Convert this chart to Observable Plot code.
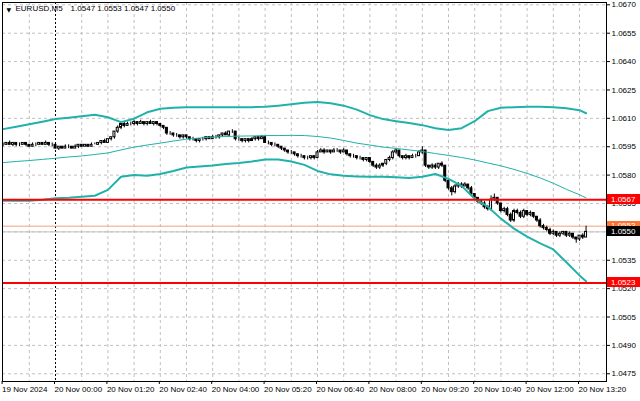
<!DOCTYPE html>
<html><head><meta charset="utf-8">
<script src="https://cdn.jsdelivr.net/npm/d3@7"></script>
<script src="https://cdn.jsdelivr.net/npm/@observablehq/plot@0.6"></script>
<style>html,body{margin:0;padding:0;background:#fff;overflow:hidden}svg{display:block}</style>
</head><body><div id="chart"></div>
<script>
// ---- data ----
const symbol = "EURUSD,M5";
const firstBar = "2024-11-19T22:40:00Z";   // M5 bars
const barMinutes = 5;

const open = [
1.0596,1.0596,1.0597,1.0596,1.0597,1.0596,1.0596,1.0597,1.0596,1.0595,1.0596,1.0596,1.0597,1.0596,1.0597,1.0596,
1.0596,1.0594,1.0595,1.0594,1.0595,1.0595,1.0594,1.0595,1.0596,1.0595,1.0596,1.0595,1.0596,1.0596,1.0597,1.0598,
1.0597,1.0599,1.0600,1.0603,1.0605,1.0607,1.0606,1.0607,1.0607,1.0608,1.0607,1.0608,1.0607,1.0608,1.0607,1.0608,
1.0607,1.0606,1.0605,1.0602,1.0602,1.0601,1.0601,1.0600,1.0601,1.0600,1.0599,1.0599,1.0598,1.0599,1.0599,1.0600,
1.0599,1.0600,1.0600,1.0601,1.0602,1.0601,1.0603,1.0603,1.0599,1.0599,1.0598,1.0599,1.0598,1.0599,1.0600,1.0599,
1.0600,1.0597,1.0597,1.0596,1.0596,1.0595,1.0594,1.0593,1.0592,1.0592,1.0591,1.0590,1.0590,1.0589,1.0589,1.0590,
1.0589,1.0592,1.0593,1.0592,1.0593,1.0592,1.0593,1.0593,1.0592,1.0593,1.0591,1.0590,1.0590,1.0589,1.0589,1.0588,
1.0589,1.0587,1.0585,1.0584,1.0585,1.0586,1.0588,1.0589,1.0592,1.0593,1.0590,1.0589,1.0590,1.0589,1.0590,1.0590,
1.0592,1.0593,1.0585,1.0584,1.0585,1.0584,1.0586,1.0585,1.0577,1.0573,1.0571,1.0574,1.0575,1.0574,1.0575,1.0573,
1.0570,1.0568,1.0566,1.0565,1.0563,1.0562,1.0567,1.0568,1.0565,1.0561,1.0562,1.0559,1.0556,1.0561,1.0560,1.0558,
1.0561,1.0559,1.0560,1.0558,1.0556,1.0553,1.0552,1.0551,1.0549,1.0550,1.0548,1.0549,1.0550,1.0548,1.0549,1.0547,
1.0546,1.0548,1.0547];
const high = [
1.0597,1.0597,1.0598,1.0597,1.0597,1.0597,1.0597,1.0597,1.0596,1.0597,1.0597,1.0597,1.0597,1.0598,1.0597,1.0597,
1.0596,1.0595,1.0595,1.0596,1.0596,1.0595,1.0596,1.0596,1.0596,1.0596,1.0596,1.0597,1.0597,1.0597,1.0598,1.0599,
1.0599,1.0600,1.0603,1.0606,1.0607,1.0608,1.0608,1.0608,1.0609,1.0608,1.0609,1.0608,1.0608,1.0609,1.0608,1.0608,
1.0607,1.0606,1.0605,1.0603,1.0602,1.0602,1.0601,1.0601,1.0601,1.0600,1.0600,1.0599,1.0599,1.0600,1.0600,1.0600,
1.0601,1.0601,1.0601,1.0602,1.0603,1.0603,1.0604,1.0603,1.0600,1.0599,1.0599,1.0599,1.0600,1.0600,1.0600,1.0601,
1.0600,1.0598,1.0597,1.0597,1.0596,1.0595,1.0594,1.0593,1.0593,1.0592,1.0591,1.0591,1.0590,1.0590,1.0590,1.0590,
1.0593,1.0594,1.0594,1.0593,1.0593,1.0594,1.0594,1.0593,1.0594,1.0593,1.0591,1.0591,1.0590,1.0590,1.0589,1.0589,
1.0589,1.0587,1.0586,1.0586,1.0586,1.0588,1.0590,1.0593,1.0594,1.0593,1.0590,1.0591,1.0590,1.0591,1.0591,1.0593,
1.0595,1.0593,1.0585,1.0586,1.0586,1.0586,1.0587,1.0585,1.0578,1.0574,1.0575,1.0576,1.0576,1.0576,1.0575,1.0574,
1.0570,1.0568,1.0567,1.0566,1.0564,1.0569,1.0570,1.0568,1.0565,1.0563,1.0563,1.0560,1.0562,1.0562,1.0561,1.0562,
1.0561,1.0561,1.0560,1.0558,1.0557,1.0554,1.0553,1.0552,1.0551,1.0550,1.0550,1.0550,1.0550,1.0550,1.0549,1.0547,
1.0548,1.0549,1.0553];
const low = [
1.0595,1.0596,1.0596,1.0595,1.0595,1.0595,1.0596,1.0595,1.0595,1.0595,1.0595,1.0596,1.0596,1.0596,1.0595,1.0595,
1.0594,1.0593,1.0594,1.0594,1.0594,1.0594,1.0594,1.0594,1.0595,1.0595,1.0595,1.0595,1.0596,1.0596,1.0596,1.0597,
1.0597,1.0598,1.0599,1.0602,1.0604,1.0605,1.0606,1.0606,1.0606,1.0606,1.0607,1.0606,1.0606,1.0607,1.0606,1.0606,
1.0605,1.0604,1.0601,1.0601,1.0600,1.0600,1.0599,1.0599,1.0599,1.0598,1.0598,1.0597,1.0597,1.0598,1.0598,1.0599,
1.0599,1.0599,1.0599,1.0600,1.0601,1.0600,1.0602,1.0598,1.0598,1.0597,1.0597,1.0597,1.0598,1.0598,1.0598,1.0599,
1.0597,1.0596,1.0595,1.0595,1.0594,1.0593,1.0592,1.0591,1.0591,1.0590,1.0589,1.0589,1.0588,1.0588,1.0588,1.0588,
1.0589,1.0592,1.0591,1.0592,1.0591,1.0592,1.0592,1.0591,1.0592,1.0590,1.0589,1.0589,1.0588,1.0588,1.0587,1.0587,
1.0586,1.0584,1.0583,1.0583,1.0584,1.0585,1.0587,1.0588,1.0591,1.0589,1.0588,1.0588,1.0588,1.0589,1.0589,1.0590,
1.0591,1.0584,1.0583,1.0583,1.0583,1.0583,1.0584,1.0576,1.0572,1.0569,1.0570,1.0573,1.0573,1.0574,1.0572,1.0569,
1.0567,1.0565,1.0564,1.0562,1.0561,1.0561,1.0566,1.0564,1.0560,1.0560,1.0558,1.0555,1.0555,1.0559,1.0557,1.0557,
1.0558,1.0558,1.0557,1.0555,1.0552,1.0551,1.0550,1.0548,1.0548,1.0547,1.0547,1.0548,1.0547,1.0547,1.0546,1.0544,
1.0545,1.0546,1.0547];
const close = [
1.0596,1.0597,1.0596,1.0597,1.0596,1.0596,1.0597,1.0596,1.0595,1.0596,1.0596,1.0597,1.0596,1.0597,1.0596,1.0596,
1.0594,1.0595,1.0594,1.0595,1.0595,1.0594,1.0595,1.0596,1.0595,1.0596,1.0595,1.0596,1.0596,1.0597,1.0598,1.0597,
1.0599,1.0600,1.0603,1.0605,1.0607,1.0606,1.0607,1.0607,1.0608,1.0607,1.0608,1.0607,1.0608,1.0607,1.0608,1.0607,
1.0606,1.0605,1.0602,1.0602,1.0601,1.0601,1.0600,1.0601,1.0600,1.0599,1.0599,1.0598,1.0599,1.0599,1.0600,1.0599,
1.0600,1.0600,1.0601,1.0602,1.0601,1.0603,1.0603,1.0599,1.0599,1.0598,1.0599,1.0598,1.0599,1.0600,1.0599,1.0600,
1.0597,1.0597,1.0596,1.0596,1.0595,1.0594,1.0593,1.0592,1.0592,1.0591,1.0590,1.0590,1.0589,1.0589,1.0590,1.0589,
1.0592,1.0593,1.0592,1.0593,1.0592,1.0593,1.0593,1.0592,1.0593,1.0591,1.0590,1.0590,1.0589,1.0589,1.0588,1.0589,
1.0587,1.0585,1.0584,1.0585,1.0586,1.0588,1.0589,1.0592,1.0593,1.0590,1.0589,1.0590,1.0589,1.0590,1.0590,1.0592,
1.0593,1.0585,1.0584,1.0585,1.0584,1.0586,1.0585,1.0577,1.0573,1.0571,1.0574,1.0575,1.0574,1.0575,1.0573,1.0570,
1.0568,1.0566,1.0565,1.0563,1.0562,1.0567,1.0568,1.0565,1.0561,1.0562,1.0559,1.0556,1.0561,1.0560,1.0558,1.0561,
1.0559,1.0560,1.0558,1.0556,1.0553,1.0552,1.0551,1.0549,1.0550,1.0548,1.0549,1.0550,1.0548,1.0549,1.0547,1.0546,
1.0548,1.0547,1.0550];

// Bollinger bands, read every 20 minutes
const bandTimes = [
"2024-11-19T22:40Z","2024-11-19T23:00Z","2024-11-19T23:20Z","2024-11-19T23:40Z",
"2024-11-20T00:00Z","2024-11-20T00:20Z","2024-11-20T00:40Z","2024-11-20T01:00Z","2024-11-20T01:20Z","2024-11-20T01:40Z",
"2024-11-20T02:00Z","2024-11-20T02:20Z","2024-11-20T02:40Z","2024-11-20T03:00Z","2024-11-20T03:20Z","2024-11-20T03:40Z",
"2024-11-20T04:00Z","2024-11-20T04:20Z","2024-11-20T04:40Z","2024-11-20T05:00Z","2024-11-20T05:20Z","2024-11-20T05:40Z",
"2024-11-20T06:00Z","2024-11-20T06:20Z","2024-11-20T06:40Z","2024-11-20T07:00Z","2024-11-20T07:20Z","2024-11-20T07:40Z",
"2024-11-20T08:00Z","2024-11-20T08:20Z","2024-11-20T08:40Z","2024-11-20T09:00Z","2024-11-20T09:20Z","2024-11-20T09:40Z",
"2024-11-20T10:00Z","2024-11-20T10:20Z","2024-11-20T10:40Z","2024-11-20T11:00Z","2024-11-20T11:20Z","2024-11-20T11:40Z",
"2024-11-20T12:00Z","2024-11-20T12:20Z","2024-11-20T12:40Z","2024-11-20T13:00Z","2024-11-20T13:20Z","2024-11-20T13:30Z"];
const bandUpper = [
1.06043,1.06056,1.06069,1.06082,1.06096,1.06103,1.06111,1.06119,1.06106,1.06080,
1.06098,1.06132,1.06151,1.06156,1.06159,1.06159,1.06159,1.06159,1.06159,1.06159,
1.06161,1.06167,1.06174,1.06182,1.06186,1.06180,1.06167,1.06146,1.06117,1.06096,
1.06085,1.06075,1.06064,1.06048,1.06038,1.06048,1.06085,1.06138,1.06156,1.06159,
1.06161,1.06161,1.06159,1.06153,1.06143,1.06127];
const bandMiddle = [
1.05866,1.05872,1.05877,1.05883,1.05889,1.05896,1.05901,1.05909,1.05917,1.05933,
1.05948,1.05959,1.05969,1.05980,1.05990,1.05996,1.06001,1.06004,1.06006,1.06007,
1.06009,1.06009,1.06010,1.06009,1.06004,1.05996,1.05983,1.05969,1.05959,1.05948,
1.05941,1.05933,1.05925,1.05914,1.05904,1.05893,1.05880,1.05864,1.05849,1.05830,
1.05809,1.05785,1.05757,1.05725,1.05696,1.05680];
const bandLower = [
1.05665,1.05665,1.05665,1.05670,1.05678,1.05680,1.05686,1.05691,1.05722,1.05791,
1.05801,1.05796,1.05806,1.05822,1.05840,1.05846,1.05851,1.05859,1.05864,1.05872,
1.05883,1.05883,1.05872,1.05854,1.05822,1.05804,1.05796,1.05793,1.05791,1.05791,
1.05788,1.05785,1.05791,1.05806,1.05780,1.05743,1.05675,1.05633,1.05570,1.05517,
1.05475,1.05439,1.05407,1.05339,1.05270,1.05239];

const levelLines = [1.0567, 1.0523];
const askPrice = 1.0553;
const bidPrice = 1.0550;

const priceTicks = [1.0475,1.0490,1.0505,1.0520,1.0535,1.0550,1.0565,1.0580,1.0595,1.0610,1.0625,1.0640,1.0655,1.0670];
const timeTicks = ["2024-11-19T22:40Z","2024-11-20T00:00Z","2024-11-20T01:20Z","2024-11-20T02:40Z","2024-11-20T04:00Z",
  "2024-11-20T05:20Z","2024-11-20T06:40Z","2024-11-20T08:00Z","2024-11-20T09:20Z","2024-11-20T10:40Z","2024-11-20T12:00Z","2024-11-20T13:20Z"];
const timeTickLabels = ["19 Nov 2024","20 Nov 00:00","20 Nov 01:20","20 Nov 02:40","20 Nov 04:00","20 Nov 05:20",
  "20 Nov 06:40","20 Nov 08:00","20 Nov 09:20","20 Nov 10:40","20 Nov 12:00","20 Nov 13:20"];
const gridTimes = ["2024-11-19T23:20Z","2024-11-20T00:40Z","2024-11-20T01:20Z","2024-11-20T02:00Z","2024-11-20T02:40Z",
  "2024-11-20T03:20Z","2024-11-20T04:00Z","2024-11-20T04:40Z","2024-11-20T05:20Z","2024-11-20T06:00Z","2024-11-20T06:40Z",
  "2024-11-20T07:20Z","2024-11-20T08:00Z","2024-11-20T08:40Z","2024-11-20T09:20Z","2024-11-20T10:00Z","2024-11-20T10:40Z",
  "2024-11-20T11:20Z","2024-11-20T12:00Z","2024-11-20T12:40Z","2024-11-20T13:20Z"];
const daySeparator = "2024-11-20T00:00Z";

// ---- build tables ----
const t0 = new Date(firstBar).getTime();
const bars = open.map((o, i) => ({
  t: new Date(t0 + i * barMinutes * 60000), o, h: high[i], l: low[i], c: close[i]
}));
const bands = bandTimes.map((s, i) => ({t: new Date(s), up: bandUpper[i], mid: bandMiddle[i], lo: bandLower[i]}));
const tickDates = timeTicks.map(s => new Date(s));
const labelOf = new Map(tickDates.map((d, i) => [+d, timeTickLabels[i]]));
const fmt = v => v.toFixed(4);
const last = bars.length - 1;
const header = `${symbol}\u2003${fmt(open[last])} ${fmt(high[last])} ${fmt(low[last])} ${fmt(close[last])}`;

const FONT = "'Liberation Sans', Arial, sans-serif";
const halfBody = 90000; // half of candle body width, ms
const grid = {stroke: "#c0c0c0", strokeOpacity: 1, strokeDasharray: "3,3"};

const chart = Plot.plot({
  width: 640, height: 401,
  marginLeft: 2, marginRight: 34, marginTop: 2, marginBottom: 20,
  style: {fontFamily: FONT, fontSize: "8px", background: "#fff", color: "#000"},
  x: {type: "utc", label: null, domain: [new Date("2024-11-19T22:39:05Z"), new Date("2024-11-20T14:01:13Z")]},
  y: {label: null, domain: [1.047092, 1.067122]},
  marks: [
    Plot.gridY(priceTicks, grid),
    Plot.gridX(gridTimes.map(s => new Date(s)), grid),
    Plot.ruleX([new Date(daySeparator)], {stroke: "#000", strokeDasharray: "2,2"}),
    Plot.ruleY([bidPrice], {stroke: "#c0c0c0"}),
    Plot.ruleY([askPrice], {stroke: "#f5a07a"}),
    Plot.ruleX(bars, {x: "t", y1: "l", y2: "h", stroke: "#000"}),
    Plot.rect(bars, {
      x1: d => new Date(+d.t - halfBody), x2: d => new Date(+d.t + halfBody),
      y1: "o", y2: "c",
      fill: d => d.c >= d.o ? "#ffffff" : "#000000", stroke: "#000"
    }),
    Plot.line(bands, {x: "t", y: "mid", stroke: "#20b2aa", strokeWidth: 1}),
    Plot.line(bands, {x: "t", y: "up", stroke: "#20b2aa", strokeWidth: 2}),
    Plot.line(bands, {x: "t", y: "lo", stroke: "#20b2aa", strokeWidth: 2}),
    Plot.ruleY(levelLines, {stroke: "#ff0000", strokeWidth: 2}),
    Plot.axisY(priceTicks, {anchor: "right", label: null, tickSize: 3, tickPadding: 2, tickFormat: fmt, fontSize: 8}),
    Plot.axisX(tickDates, {anchor: "bottom", label: null, tickSize: 3, tickPadding: 2, textAnchor: "start", dx: -1,
      tickFormat: d => labelOf.get(+d), fontSize: 8}),
    Plot.frame({stroke: "#000"}),
    Plot.text([header], {frameAnchor: "top-left", dx: 13, dy: 3, lineAnchor: "top", textAnchor: "start", fontSize: 8, fill: "#000"}),
    Plot.text(["\u25BC"], {frameAnchor: "top-left", dx: 4, dy: 5, lineAnchor: "top", textAnchor: "start", fontSize: 6, fill: "#000", fontFamily: "DejaVu Sans"})
  ]
});
document.getElementById("chart").appendChild(chart);

// price tags on the price scale (positions from the plot's y scale)
const yS = chart.scale("y");
const tags = [
  {p: levelLines[0], bg: "#ff0000"},
  {p: levelLines[1], bg: "#ff0000"},
  {p: askPrice, bg: "#ff7433"},
  {p: bidPrice, bg: "#000000"}
];
const g = d3.select(chart).append("g").attr("font-family", FONT).attr("font-size", 8).attr("text-anchor", "start");
for (const tg of tags) {
  const yy = yS.apply(tg.p);
  g.append("rect").attr("x", 607).attr("y", Math.round(yy) - 5).attr("width", 33).attr("height", 10).attr("fill", tg.bg);
  g.append("text").attr("x", 611).attr("y", yy).attr("dy", "0.32em").attr("text-anchor", "start").attr("fill", "#fff").text(fmt(tg.p));
}
</script></body></html>
